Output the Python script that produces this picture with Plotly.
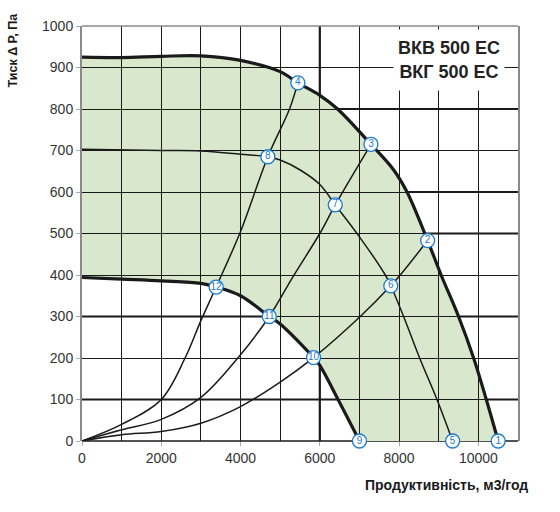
import plotly.graph_objects as go

# ---- data ----
# fan curves
top_x = [0, 1000, 2000, 3000, 4000, 5000, 5446, 6000, 6448, 7290, 7850, 8200, 8720, 9060, 9500, 9880, 10200, 10500]
top_y = [925, 924, 927, 928, 917, 890, 863, 833, 800, 715, 655, 600, 483, 400, 300, 200, 100, 0]

mid_x = [0, 2000, 3000, 4000, 4689, 5000, 5505, 6000, 6389, 7000, 7652, 7790, 8114, 8518, 8956, 9350]
mid_y = [703, 700, 699, 691, 685, 677, 653, 618, 569, 492, 400, 374, 300, 200, 100, 0]

low_x = [0, 1000, 2000, 3000, 3384, 4000, 4725, 5000, 5842, 6000, 6460, 7000]
low_y = [394, 390, 386, 380, 371, 350, 300, 282, 201, 182, 100, 0]

# system curves
sa_x = [0, 1000, 2000, 2600, 3000, 3384, 4000, 4689, 5235, 5446]
sa_y = [0, 40, 100, 200, 290, 371, 505, 685, 800, 863]

sb_x = [0, 1000, 2000, 3000, 4000, 4725, 5336, 6000, 6389, 7290]
sb_y = [0, 27, 52, 105, 208, 300, 398, 500, 569, 715]

sc_x = [0, 1000, 2000, 3000, 4000, 5000, 5842, 7020, 7790, 8030, 8720]
sc_y = [0, 15, 23, 43, 83, 142, 201, 300, 374, 400, 483]

# numbered points
pt_labels = ["1", "2", "3", "4", "5", "6", "7", "8", "9", "10", "11", "12"]
pt_x = [10500, 8720, 7290, 5446, 9350, 7790, 6389, 4689, 7000, 5842, 4725, 3384]
pt_y = [0, 483, 715, 863, 0, 374, 569, 685, 0, 201, 300, 371]

x_ticks = [0, 2000, 4000, 6000, 8000, 10000]
x_tick_text = ["0", "2000", "4000", "6000", "8000", "10000"]
y_ticks = [0, 100, 200, 300, 400, 500, 600, 700, 800, 900, 1000]
thick_y = [100, 300, 500, 600, 800]
thick_x = [6000]

title_text = "ВКВ 500 ЕС<br>ВКГ 500 ЕС"
x_title = "Продуктивність, м3/год"
y_title = "Тиск Δ Р, Па"

FONT = "Liberation Sans, Arial, sans-serif"
LINE = "#1a1a1a"
BLUE = "#1b78cc"
FILL = "#d9e8cc"


def bezier_segments(xs, ys):
    """Catmull-Rom -> cubic bezier path commands (without initial M)."""
    n = len(xs)
    cmds = []
    for i in range(n - 1):
        x0, y0 = (xs[i - 1], ys[i - 1]) if i > 0 else (xs[i], ys[i])
        x1, y1 = xs[i], ys[i]
        x2, y2 = xs[i + 1], ys[i + 1]
        x3, y3 = (xs[i + 2], ys[i + 2]) if i + 2 < n else (x2, y2)
        c1x, c1y = x1 + (x2 - x0) / 6, y1 + (y2 - y0) / 6
        c2x, c2y = x2 - (x3 - x1) / 6, y2 - (y3 - y1) / 6
        cmds.append(f"C {c1x},{c1y} {c2x},{c2y} {x2},{y2}")
    return cmds


path = [f"M {top_x[0]},{top_y[0]}"] + bezier_segments(top_x, top_y)
path.append(f"L {low_x[-1]},{low_y[-1]}")
path += bezier_segments(low_x[::-1], low_y[::-1])
path.append("Z")
fill_path = " ".join(path)

fig = go.Figure()

shapes = [dict(type="path", path=fill_path, xref="x", yref="y",
               fillcolor=FILL, line=dict(width=0), layer="below")]
for yv in thick_y:
    shapes.append(dict(type="line", xref="paper", x0=0, x1=1, yref="y", y0=yv, y1=yv,
                       line=dict(color=LINE, width=2.2), layer="between"))
for xv in thick_x:
    shapes.append(dict(type="line", yref="paper", y0=0, y1=1, xref="x", x0=xv, x1=xv,
                       line=dict(color=LINE, width=2.2), layer="between"))
# bottom axis (dark) and top border (grey)
shapes.append(dict(type="line", xref="paper", x0=0, x1=1, yref="paper", y0=0, y1=0,
                   line=dict(color=LINE, width=1.6), layer="between"))
shapes.append(dict(type="line", xref="paper", x0=0, x1=1, yref="paper", y0=1, y1=1,
                   line=dict(color="#8a8a8a", width=1.5), layer="above"))

for xs, ys, w in [(sa_x, sa_y, 1.5), (sb_x, sb_y, 1.5), (sc_x, sc_y, 1.5),
                  (mid_x, mid_y, 1.5), (low_x, low_y, 3.2), (top_x, top_y, 3.2)]:
    fig.add_trace(go.Scatter(x=xs, y=ys, mode="lines",
                             line=dict(color=LINE, width=w, shape="spline", smoothing=1),
                             hoverinfo="skip", showlegend=False, cliponaxis=False))

fig.add_trace(go.Scatter(
    x=pt_x, y=pt_y, mode="markers+text", text=pt_labels,
    textposition="middle center",
    textfont=dict(family=FONT, size=10, color=BLUE),
    marker=dict(symbol="circle", size=14, color="white", line=dict(color=BLUE, width=1.3)),
    hoverinfo="skip", showlegend=False, cliponaxis=False))

fig.update_layout(
    width=560, height=512,
    margin=dict(l=82, r=42, t=26, b=71),
    paper_bgcolor="white", plot_bgcolor="white",
    font=dict(family=FONT, size=14, color="#333333"),
    shapes=shapes,
    hovermode=False,
    xaxis=dict(range=[0, 11000], tickvals=x_ticks, ticktext=x_tick_text,
               showgrid=True, gridcolor=LINE, gridwidth=1.2,
               minor=dict(dtick=1000, tick0=0, showgrid=True, gridcolor=LINE, gridwidth=1.2, ticks=""),
               ticks="outside", ticklen=4, tickcolor="#aaaaaa",
               zeroline=False, showline=False, fixedrange=True,
               tickfont=dict(size=14, color="#333333")),
    yaxis=dict(range=[0, 1000], tickvals=y_ticks, showgrid=True, gridcolor=LINE, gridwidth=1.2,
               ticks="outside", ticklen=4, tickcolor="#aaaaaa",
               zeroline=False, showline=True, linecolor="#8a8a8a", linewidth=2, mirror=True,
               fixedrange=True, tickfont=dict(size=14, color="#333333")),
    annotations=[
        dict(text="<b>" + title_text + "</b>", xref="paper", yref="paper",
             x=0.842, y=0.917, xanchor="center", yanchor="middle", showarrow=False,
             font=dict(family=FONT, size=18, color="#222222"), align="center",
             bgcolor="white", width=102, height=52, borderpad=4),
        dict(text="<b>" + x_title + "</b>", xref="paper", yref="paper",
             x=1.0275, y=-0.105, xanchor="right", yanchor="middle", showarrow=False,
             font=dict(family=FONT, size=14, color="#1a1a1a")),
        dict(text="<b>" + y_title + "</b>", xref="paper", yref="paper",
             x=-0.158, y=0.9415, xanchor="center", yanchor="middle", showarrow=False,
             textangle=-90, font=dict(family=FONT, size=12.5, color="#1a1a1a")),
    ],
)

fig.write_html("out.html", config={"displayModeBar": False},
               post_script="document.body.style.margin='0px';")
